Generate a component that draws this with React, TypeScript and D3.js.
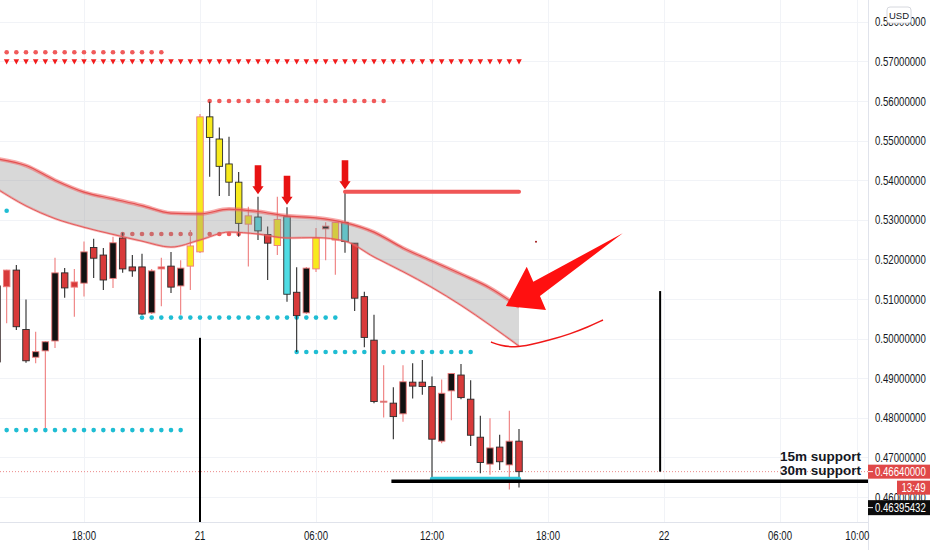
import React from 'react';
import * as d3 from 'd3';

// 30m candles, first one at 20th 13:30, last at 21st 16:30
const BASE = Date.UTC(2023, 0, 21); // "21" 00:00
const HOUR = 3600e3;
const FIRST_BAR = -21;

const opens = [
  0.5133, 0.5173, 0.5173, 0.5023, 0.4953, 0.4969, 0.4994, 0.5166, 0.5143, 0.5140,
  0.5230, 0.5211, 0.5152, 0.5254, 0.5181, 0.5181, 0.5065, 0.5181, 0.5183, 0.5133,
  0.5183, 0.5219, 0.5560, 0.5504, 0.5441, 0.5395, 0.5289, 0.5307, 0.5263, 0.5235,
  0.5308, 0.5117, 0.5065, 0.5176, 0.5277, 0.5249, 0.5293, 0.5241, 0.5106, 0.4996,
  0.4840, 0.4837, 0.4810, 0.4890, 0.4890, 0.4879, 0.4741, 0.4868, 0.4908, 0.4847,
  0.4751, 0.4683, 0.4726, 0.4681, 0.4741,
];
const highs = [
  0.5136, 0.5174, 0.5186, 0.5099, 0.5017, 0.4994, 0.5204, 0.5178, 0.5176, 0.5245,
  0.5252, 0.5229, 0.5257, 0.5267, 0.5211, 0.5214, 0.5176, 0.5204, 0.5219, 0.5198,
  0.5274, 0.5567, 0.5598, 0.5533, 0.5510, 0.5421, 0.5333, 0.5358, 0.5283, 0.5358,
  0.5332, 0.5180, 0.5181, 0.5279, 0.5294, 0.5294, 0.5371, 0.5241, 0.5118, 0.5060,
  0.4933, 0.4877, 0.4933, 0.4938, 0.4946, 0.4904, 0.4897, 0.4913, 0.4936, 0.4895,
  0.4805, 0.4799, 0.4757, 0.4818, 0.4772,
];
const lows = [
  0.4933, 0.5039, 0.5022, 0.4939, 0.4938, 0.4774, 0.4976, 0.5103, 0.5055, 0.5106,
  0.5153, 0.5123, 0.5128, 0.5166, 0.5156, 0.5060, 0.5062, 0.5082, 0.5115, 0.5060,
  0.5123, 0.5216, 0.5409, 0.5360, 0.5360, 0.5257, 0.5182, 0.5249, 0.5148, 0.5211,
  0.5093, 0.4966, 0.5062, 0.5168, 0.5198, 0.5161, 0.5217, 0.5070, 0.4978, 0.4837,
  0.4801, 0.4746, 0.4790, 0.4849, 0.4858, 0.4643, 0.4736, 0.4794, 0.4847, 0.4729,
  0.4660, 0.4656, 0.4668, 0.4619, 0.4624,
];
const closes = [
  0.4941, 0.5131, 0.5030, 0.4944, 0.4967, 0.4992, 0.5166, 0.5128, 0.5130, 0.5219,
  0.5203, 0.5148, 0.5242, 0.5176, 0.5171, 0.5062, 0.5171, 0.5176, 0.5130, 0.5178,
  0.5234, 0.5560, 0.5508, 0.5435, 0.5395, 0.5291, 0.5310, 0.5272, 0.5241, 0.5301,
  0.5112, 0.5058, 0.5178, 0.5254, 0.5284, 0.5293, 0.5245, 0.5102, 0.5003, 0.4841,
  0.4842, 0.4803, 0.4891, 0.4880, 0.4879, 0.4746, 0.4862, 0.4912, 0.4851, 0.4756,
  0.4687, 0.4724, 0.4689, 0.4741, 0.4664,
];
// indicator bar colouring: Y = yellow, C = cyan
const signals = [
  '', '', '', '', '', '', '', '', '', '', '', '', '', '', '', '', '', '', '', '',
  'Y', 'Y', 'Y', 'Y', 'Y', 'Y', 'Y', 'C', '', 'Y', 'C', '', '', 'Y', '', 'Y', 'C',
  '', '', '', '', '', '', '', '', '', '', '', '', '', '', '', '', '', '',
];

// moving average ribbon
const bandBars = [-21, -18, -15, -12, -9, -6, -3, 0, 3, 6, 9, 12, 15, 18, 21, 24, 27, 30, 33];
const bandUpper = [0.5454, 0.5437, 0.5400, 0.5370, 0.5353, 0.5336, 0.5317, 0.5315, 0.5327, 0.5321,
  0.5310, 0.5305, 0.5293, 0.5269, 0.5229, 0.5196, 0.5163, 0.5128, 0.5080];
const bandLower = [0.5378, 0.5335, 0.5303, 0.5281, 0.5263, 0.5246, 0.5231, 0.5249, 0.5269, 0.5264,
  0.5254, 0.5255, 0.5246, 0.5206, 0.5169, 0.5129, 0.5084, 0.5034, 0.4981];

// [price, fromBar, toBar]
const redDotLevels: [number, number, number][] = [[0.5723, -20, -4], [0.56, 1, 19], [0.5264, -8, 4]];
const cyanDotLevels: [number, number, number][] = [[0.5323, -20, -20], [0.5053, -6, 14], [0.4966, 10, 28], [0.4769, -20, -2]];
const triangleLevel: [number, number, number] = [0.5699, -21, 33];
const resistance: [number, number, number] = [0.5371, 15, 33];
const cyanSupport: [number, number, number] = [0.46455, 24, 33];
const supportPrice = 0.46395432;
const supportFromBar = 19.8;
const lastPrice = 0.4664;
const countdown = '13:49';
const arrowBars = [6, 9, 15];

// drawings in [bar, price]
const bigArrow: [number, number][] = [[43.73, 0.52659], [34.48, 0.51437], [33.8, 0.51816], [31.65, 0.50823], [35.79, 0.50722], [35.17, 0.51076]];
const handCurve: [number, number][] = [[30.1, 0.49914], [31.03, 0.49826], [32.59, 0.49775], [34.14, 0.49838], [36.21, 0.49965], [38.27, 0.50116], [40.14, 0.50293], [41.69, 0.5047]];
const speck: [number, number] = [34.76, 0.52444];
const vLines: [number, number, number][] = [[0, 0.5002, 0.44], [47.6, 0.512, 0.4664]];
const supportLabels = ['15m support', '30m support'];

const priceTicks = [0.58, 0.57, 0.56, 0.55, 0.54, 0.53, 0.52, 0.51, 0.5, 0.49, 0.48, 0.47, 0.46];
const timeTicks: [number, string][] = [[-6, '18:00'], [0, '21'], [6, '06:00'], [12, '12:00'], [18, '18:00'], [24, '22'], [30, '06:00'], [34, '10:00']];

const W = 932, H = 550, PLOT_R = 868, PLOT_B = 522;
const FONT = '"Liberation Sans", Arial, sans-serif';
const RED = '#d83a3a', BLACK = '#121212', YELLOW = '#f7ea1c', CYAN = '#4fdce4';
const DARK = '#2b2b2b', PINK = '#ee7c7c';
const DOT_RED = '#f05a5a', DOT_CYAN = '#1fbdd3';
const AXIS_SX = 0.77; // the axis font is narrow

export default function App() {
  const x = d3.scaleTime()
    .domain([new Date(BASE - 10.345 * HOUR), new Date(BASE + 34.552 * HOUR)])
    .range([0, PLOT_R]);
  const y = d3.scaleLinear().domain([0.56, 0.46]).range([101, 497]);
  const bx = (bar: number) => x(new Date(BASE + bar * 0.5 * HOUR));
  const hx = (h: number) => x(new Date(BASE + h * HOUR));
  const bw = 6.5;

  const band = bandBars.map((b, i) => ({ b, u: bandUpper[i], l: bandLower[i] }));
  const area = d3.area<typeof band[0]>().x(d => bx(d.b)).y0(d => y(d.l)).y1(d => y(d.u)).curve(d3.curveMonotoneX);
  const upperLine = d3.line<typeof band[0]>().x(d => bx(d.b)).y(d => y(d.u)).curve(d3.curveMonotoneX);
  const lowerLine = d3.line<typeof band[0]>().x(d => bx(d.b)).y(d => y(d.l)).curve(d3.curveMonotoneX);
  const dataLine = d3.line<[number, number]>().x(d => bx(d[0])).y(d => y(d[1]));
  const curveLine = d3.line<[number, number]>().x(d => bx(d[0])).y(d => y(d[1])).curve(d3.curveBasis);

  const dots = (lv: [number, number, number], color: string, key: string) =>
    d3.range(lv[1], lv[2] + 1).map(b => (
      <circle key={key + b} cx={bx(b)} cy={y(lv[0])} r={2.3} fill={color} />
    ));

  const axisText = (tx: number, ty: number, s: string, fill: string, anchor = 'start') => (
    <text transform={`translate(${tx},${ty}) scale(${AXIS_SX},1)`} fontFamily={FONT} fontSize={12.5}
      fill={fill} textAnchor={anchor}>{s}</text>
  );

  return (
    <svg width={W} height={H} style={{ position: 'absolute', left: 0, top: 0, background: '#fff' }}>
      <defs>
        <clipPath id="plot"><rect x={0} y={0} width={PLOT_R} height={PLOT_B} /></clipPath>
      </defs>
      {/* grid */}
      <g stroke="#f1f3f7" strokeWidth={1}>
        {priceTicks.map(p => <line key={p} x1={0} x2={PLOT_R} y1={Math.round(y(p)) + 0.5} y2={Math.round(y(p)) + 0.5} />)}
        {timeTicks.map(([h]) => <line key={h} x1={Math.round(hx(h)) + 0.5} x2={Math.round(hx(h)) + 0.5} y1={0} y2={PLOT_B} />)}
      </g>

      <g clipPath="url(#plot)">
        {/* current price dotted line */}
        <line x1={0} x2={PLOT_R} y1={y(lastPrice)} y2={y(lastPrice)} stroke="#ec8a8a" strokeWidth={1} strokeDasharray="1 2" />

        {/* triangles row */}
        {d3.range(triangleLevel[1], triangleLevel[2] + 1).map(b => {
          const cx = bx(b), cy = y(triangleLevel[0]);
          return <path key={'t' + b} d={`M${cx - 2.8},${cy - 2.6}L${cx + 2.8},${cy - 2.6}L${cx},${cy + 2.6}Z`} fill="#f21c1c" />;
        })}
        {redDotLevels.map((lv, i) => dots(lv, DOT_RED, 'r' + i))}
        {cyanDotLevels.map((lv, i) => dots(lv, DOT_CYAN, 'c' + i))}

        {/* candles */}
        {opens.map((o, i) => {
          const c = closes[i];
          const bar = FIRST_BAR + i;
          const cx = bx(bar);
          const prev = i > 0 ? closes[i - 1] : o;
          const edge = c >= prev ? PINK : DARK;
          const fill = signals[i] === 'Y' ? YELLOW : signals[i] === 'C' ? CYAN : c >= o ? BLACK : RED;
          const top = y(Math.max(o, c));
          const h = Math.max(1, Math.abs(y(o) - y(c)));
          return (
            <g key={'k' + i}>
              <line x1={cx} x2={cx} y1={y(highs[i])} y2={y(lows[i])} stroke={edge} strokeWidth={1.1} />
              <rect x={cx - bw / 2} y={top} width={bw} height={h} fill={fill} stroke={edge} strokeWidth={0.9} />
            </g>
          );
        })}

        {/* ribbon */}
        <path d={area(band) || ''} fill="rgba(140,140,140,0.34)" />
        <path d={upperLine(band) || ''} fill="none" stroke="rgba(240,100,100,0.55)" strokeWidth={4} />
        <path d={upperLine(band) || ''} fill="none" stroke="#e45050" strokeWidth={1.2} />
        <path d={lowerLine(band) || ''} fill="none" stroke="rgba(240,100,100,0.45)" strokeWidth={2.4} />
        <path d={lowerLine(band) || ''} fill="none" stroke="#e45a5a" strokeWidth={1} />

        {/* resistance / supports */}
        <line x1={bx(resistance[1])} x2={bx(resistance[2])} y1={y(resistance[0])} y2={y(resistance[0])} stroke="#f05656" strokeWidth={4} strokeLinecap="round" />
        <line x1={bx(cyanSupport[1])} x2={bx(cyanSupport[2])} y1={y(cyanSupport[0])} y2={y(cyanSupport[0])} stroke="#2fc4d8" strokeWidth={4.5} strokeLinecap="round" />
        <line x1={bx(supportFromBar)} x2={PLOT_R} y1={y(supportPrice)} y2={y(supportPrice)} stroke="#000" strokeWidth={3.5} />

        {/* vertical lines */}
        {vLines.map(([b, p1, p2]) => (
          <line key={'v' + b} x1={bx(b)} x2={bx(b)} y1={y(p1)} y2={Math.min(PLOT_B, y(p2))} stroke="#000" strokeWidth={2} />
        ))}

        {/* signal arrows */}
        {arrowBars.map(b => {
          const i = b - FIRST_BAR;
          const cx = bx(b), tip = y(highs[i]) - 2.5;
          const d = `M${cx - 3.3},${tip - 29}L${cx + 3.3},${tip - 29}L${cx + 3.3},${tip - 8}L${cx + 5.6},${tip - 8}L${cx},${tip}L${cx - 5.6},${tip - 8}L${cx - 3.3},${tip - 8}Z`;
          return <path key={'a' + b} d={d} fill="#e81212" />;
        })}

        {/* drawings */}
        <path d={(dataLine(bigArrow) || '') + 'Z'} fill="#ff1010" />
        <path d={curveLine(handCurve) || ''} fill="none" stroke="#f01818" strokeWidth={1.5} />
        <circle cx={bx(speck[0])} cy={y(speck[1])} r={1} fill="#a01818" />

        <g fontFamily={FONT} fontWeight="bold" fontSize={13.5} fill="#131722" textAnchor="end">
          <text x={PLOT_R - 7} y={y(supportPrice) - 20.5}>{supportLabels[0]}</text>
          <text x={PLOT_R - 7} y={y(supportPrice) - 6.5}>{supportLabels[1]}</text>
        </g>
      </g>

      {/* axes borders */}
      <line x1={PLOT_R + 0.5} x2={PLOT_R + 0.5} y1={0} y2={H} stroke="#e0e3eb" />
      <line x1={0} x2={PLOT_R} y1={PLOT_B + 0.5} y2={PLOT_B + 0.5} stroke="#e0e3eb" />

      {/* price axis */}
      <g>
        {priceTicks.map(p => <g key={p}>{axisText(875, y(p) + 4.5, p.toFixed(8), '#131722')}</g>)}
      </g>
      <rect x={887} y={7} width={24} height={16} rx={3} fill="#fff" stroke="#d6d8de" />
      <text x={899} y={18.5} fontFamily={FONT} fontSize={9.5} fill="#131722" textAnchor="middle">USD</text>

      {/* price tags */}
      <rect x={868} y={y(lastPrice) - 7} width={62} height={14} fill="#e04848" />
      <line x1={868} x2={873} y1={y(lastPrice)} y2={y(lastPrice)} stroke="#fff" />
      {axisText(875, y(lastPrice) + 4.5, lastPrice.toFixed(8), '#fff')}
      <rect x={897} y={y(lastPrice) + 9} width={33} height={14} fill="#e04848" />
      {axisText(913.5, y(lastPrice) + 20.5, countdown, '#fff', 'middle')}
      <rect x={868} y={y(lastPrice) + 28.5} width={62} height={15} fill="#0c0c0c" />
      <line x1={868} x2={873} y1={y(lastPrice) + 36} y2={y(lastPrice) + 36} stroke="#fff" />
      {axisText(875, y(lastPrice) + 40.5, supportPrice.toFixed(8), '#fff')}

      {/* time axis */}
      <g>
        {timeTicks.map(([h, label]) => <g key={h}>{axisText(hx(h), 540, label, '#131722', 'middle')}</g>)}
      </g>
    </svg>
  );
}
